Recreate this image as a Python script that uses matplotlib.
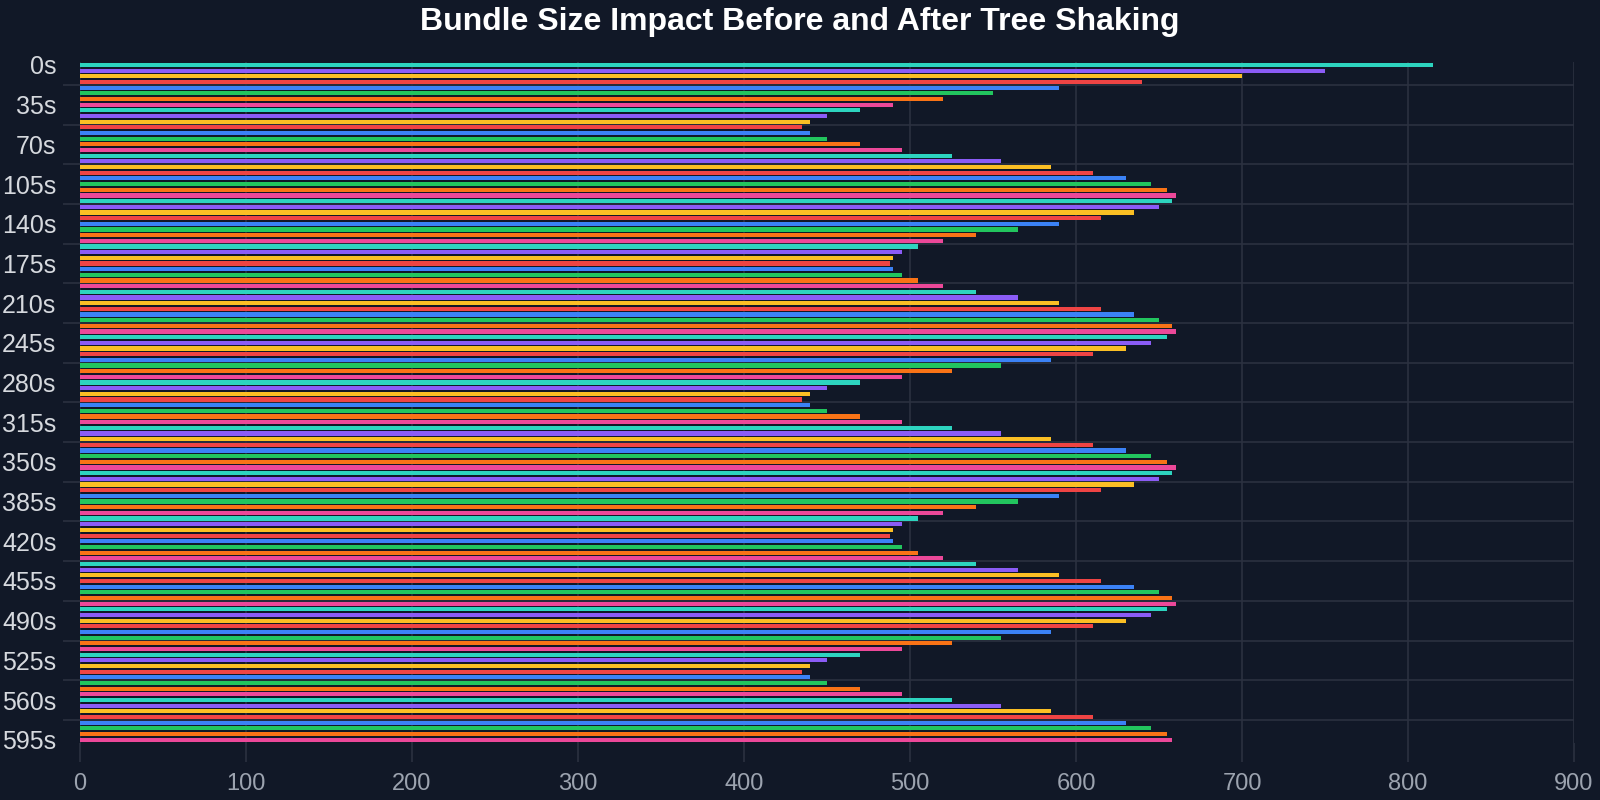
import matplotlib
matplotlib.use("Agg")
import matplotlib.pyplot as plt
from matplotlib.ticker import FixedLocator

plt.rcParams['font.family'] = ['Liberation Sans', 'DejaVu Sans']

# ---- data ----
times = [f"{t}s" for t in range(0, 600, 5)]
sizes = [
    815, 750, 700, 640, 590, 550, 520, 490, 470, 450, 440, 435,
    440, 450, 470, 495, 525, 555, 585, 610, 630, 645, 655, 660,
    658, 650, 635, 615, 590, 565, 540, 520, 505, 495, 490, 488,
    490, 495, 505, 520, 540, 565, 590, 615, 635, 650, 658, 660,
    655, 645, 630, 610, 585, 555, 525, 495, 470, 450, 440, 435,
    440, 450, 470, 495, 525, 555, 585, 610, 630, 645, 655, 660,
    658, 650, 635, 615, 590, 565, 540, 520, 505, 495, 490, 488,
    490, 495, 505, 520, 540, 565, 590, 615, 635, 650, 658, 660,
    655, 645, 630, 610, 585, 555, 525, 495, 470, 450, 440, 435,
    440, 450, 470, 495, 525, 555, 585, 610, 630, 645, 655, 658,
]
palette = ["#2dd4bf", "#8b5cf6", "#fbbf24", "#ef4444",
           "#3b82f6", "#22c55e", "#f97316", "#ec4899"]
title = "Bundle Size Impact Before and After Tree Shaking"
x_ticks = [0, 100, 200, 300, 400, 500, 600, 700, 800, 900]

BG = "#111827"
GRID = "#2b3140"

fig = plt.figure(figsize=(16, 8), dpi=100, facecolor=BG)
ax = fig.add_axes([0.05, 0.0718, 0.93375, 0.8505])
ax.set_facecolor(BG)

pos = list(range(len(times)))
colors = [palette[i % len(palette)] for i in pos]
ax.barh(pos, sizes, height=0.74, color=colors, zorder=3)

ax.set_ylim(len(times) - 0.5, -0.5)
ax.set_xlim(0, 900)

# y labels every 7th category
label_idx = pos[::7]
ax.set_yticks(label_idx)
ax.set_yticklabels([times[i] for i in label_idx])
ax.yaxis.set_minor_locator(FixedLocator([i + 3.5 for i in label_idx if i + 3.5 < len(times)]))
ax.tick_params(axis='y', which='major', length=0, pad=17, labelsize=18, labelcolor="#d6d9de")
ax.tick_params(axis='y', which='minor', length=12, width=1.2, color=GRID)

ax.set_xticks(x_ticks)
ax.set_xticklabels([str(v) for v in x_ticks])
ax.tick_params(axis='x', which='major', length=14, width=1.2, color=GRID,
               pad=8, labelsize=17, labelcolor="#9ca3af")

ax.grid(True, axis='x', which='major', color=GRID, linewidth=1.2, zorder=0)
ax.grid(True, axis='y', which='minor', color=GRID, linewidth=1.2, zorder=0)

for s in ax.spines.values():
    s.set_visible(False)

fig.text(0.5, 0.973, title, ha='center', va='center', fontsize=23,
         fontweight='bold', color='white')

fig.savefig("out.png", dpi=100, facecolor=BG)
